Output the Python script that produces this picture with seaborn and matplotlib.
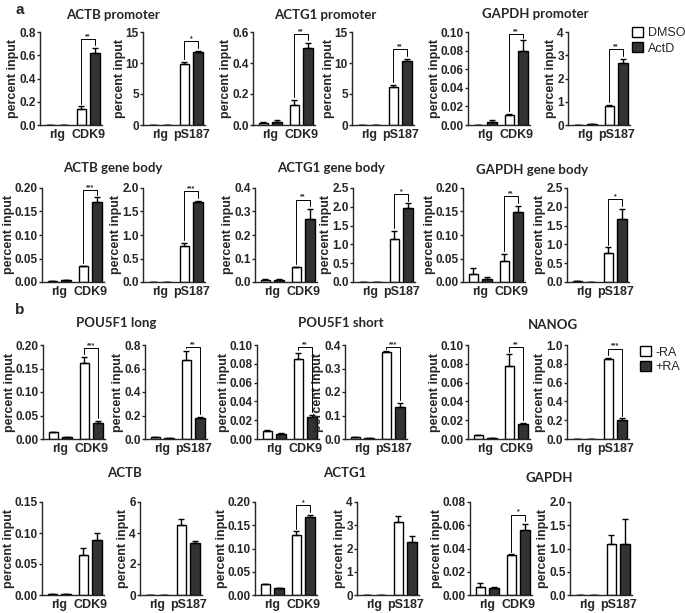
import numpy as np
import pandas as pd
import matplotlib
matplotlib.use("Agg")
import matplotlib.pyplot as plt
import seaborn as sns
from matplotlib.patches import Patch

# ---- data ----
groups_cdk9 = ["rIg", "CDK9"]
groups_ps = ["rIg", "pS187"]

# panel a, promoter row
a1_titles = ["ACTB promoter", "ACTG1 promoter", "GAPDH promoter"]
a1_white = [[0.0, 0.14], [0.0, 9.9], [0.012, 0.13], [0.05, 6.2], [0.0, 0.011], [0.01, 0.80]]
a1_white_err = [[0.0, 0.02], [0.0, 0.3], [0.005, 0.03], [0.0, 0.3], [0.0, 0.001], [0.0, 0.08]]
a1_dark = [[0.0, 0.62], [0.0, 11.7], [0.02, 0.50], [0.05, 10.3], [0.003, 0.080], [0.03, 2.68]]
a1_dark_err = [[0.0, 0.04], [0.0, 0.3], [0.015, 0.03], [0.0, 0.4], [0.002, 0.011], [0.0, 0.18]]
a1_stars = ["**", "*", "**", "**", "**", "**"]
a1_ymax = [0.8, 15, 0.6, 15, 0.10, 4]
a1_step = [0.2, 5, 0.2, 5, 0.02, 1]

# panel a, gene body row
a2_titles = ["ACTB gene body", "ACTG1 gene body", "GAPDH gene body"]
a2_white = [[0.003, 0.033], [0.005, 0.77], [0.01, 0.063], [0.01, 1.15], [0.017, 0.044], [0.02, 0.78]]
a2_white_err = [[0.0, 0.001], [0.0, 0.07], [0.002, 0.002], [0.0, 0.2], [0.013, 0.016], [0.0, 0.14]]
a2_dark = [[0.004, 0.170], [0.005, 1.70], [0.01, 0.27], [0.01, 1.97], [0.007, 0.149], [0.01, 1.68]]
a2_dark_err = [[0.001, 0.01], [0.0, 0.03], [0.002, 0.04], [0.0, 0.12], [0.003, 0.013], [0.0, 0.27]]
a2_stars = ["***", "***", "**", "*", "**", "*"]
a2_ymax = [0.20, 2.0, 0.4, 2.5, 0.20, 2.5]
a2_step = [0.05, 0.5, 0.1, 0.5, 0.05, 0.5]

# panel b, pluripotency genes
b1_titles = ["POU5F1 long", "POU5F1 short", "NANOG"]
b1_white = [[0.014, 0.162], [0.015, 0.67], [0.009, 0.085], [0.007, 0.37], [0.004, 0.078], [0.005, 0.85]]
b1_white_err = [[0.001, 0.012], [0.0, 0.08], [0.001, 0.007], [0.0, 0.003], [0.0005, 0.012], [0.0, 0.01]]
b1_dark = [[0.004, 0.034], [0.005, 0.18], [0.005, 0.023], [0.004, 0.135], [0.001, 0.016], [0.003, 0.20]]
b1_dark_err = [[0.001, 0.004], [0.0, 0.01], [0.001, 0.003], [0.0, 0.02], [0.0, 0.001], [0.0, 0.02]]
b1_stars = ["***", "**", "**", "***", "**", "***"]
b1_ymax = [0.20, 0.8, 0.10, 0.4, 0.10, 1.0]
b1_step = [0.05, 0.2, 0.02, 0.1, 0.02, 0.2]

# panel b, housekeeping genes
b2_titles = ["ACTB", "ACTG1", "GAPDH"]
b2_white = [[0.001, 0.065], [0.01, 4.5], [0.023, 0.13], [0.02, 3.15], [0.007, 0.034], [0.01, 1.10]]
b2_white_err = [[0.0, 0.011], [0.0, 0.4], [0.001, 0.007], [0.0, 0.25], [0.003, 0.001], [0.0, 0.18]]
b2_dark = [[0.001, 0.089], [0.02, 3.35], [0.015, 0.168], [0.01, 2.3], [0.006, 0.056], [0.005, 1.09]]
b2_dark_err = [[0.0, 0.011], [0.0, 0.15], [0.001, 0.005], [0.0, 0.22], [0.001, 0.005], [0.0, 0.55]]
b2_stars = ["", "", "*", "", "*", ""]
b2_ymax = [0.15, 6, 0.20, 4, 0.08, 2.0]
b2_step = [0.05, 2, 0.05, 1, 0.02, 0.5]

cond_a = ["DMSO", "ActD"]
cond_b = ["-RA", "+RA"]

# ---- style ----
sns.set_theme(style="ticks")
plt.rcParams['font.family'] = ['Liberation Sans', 'DejaVu Sans']
plt.rcParams['font.weight'] = 'bold'
plt.rcParams['axes.labelweight'] = 'bold'
TITLE_FONT = ['Lato', 'DejaVu Sans']
W, H = 685, 613
DARK = "#333333"

fig = plt.figure(figsize=(W / 100, H / 100), dpi=100)

# layout in pixels: (top, bottom, lefts)
rows = [
    (32, 125, [40, 143, 253, 352, 468, 568]),
    (188, 282, [42, 143, 255, 353, 463, 567]),
    (345, 439, [43, 145, 257, 345, 468, 567]),
    (502, 595, [42, 140, 255, 357, 470, 570]),
]
AX_W = 62

row_data = [
    (a1_white, a1_white_err, a1_dark, a1_dark_err, a1_stars, a1_ymax, a1_step, cond_a),
    (a2_white, a2_white_err, a2_dark, a2_dark_err, a2_stars, a2_ymax, a2_step, cond_a),
    (b1_white, b1_white_err, b1_dark, b1_dark_err, b1_stars, b1_ymax, b1_step, cond_b),
    (b2_white, b2_white_err, b2_dark, b2_dark_err, b2_stars, b2_ymax, b2_step, cond_b),
]


def px_axes(left, top, bottom):
    return fig.add_axes([left / W, 1 - bottom / H, AX_W / W, (bottom - top) / H])


for (top, bottom, lefts), (wm, we, dm, de, stars, ymaxs, steps, conds) in zip(rows, row_data):
    for j in range(6):
        ax = px_axes(lefts[j], top, bottom)
        groups = groups_cdk9 if j % 2 == 0 else groups_ps
        df = pd.DataFrame({
            "group": groups * 2,
            "cond": [conds[0]] * 2 + [conds[1]] * 2,
            "value": wm[j] + dm[j],
        })
        sns.barplot(data=df, x="group", y="value", hue="cond", order=groups,
                    hue_order=conds, palette={conds[0]: "white", conds[1]: DARK},
                    edgecolor="black", linewidth=1.0, width=0.9, gap=0.35,
                    errorbar=None, legend=False, ax=ax)
        errs = [we[j], de[j]]
        vals = [wm[j], dm[j]]
        tops = []
        bar_conts = list(ax.containers)
        for h, cont in enumerate(bar_conts):
            xs = [p.get_x() + p.get_width() / 2 for p in cont.patches]
            ax.errorbar(xs, vals[h], yerr=[[0, 0], errs[h]], fmt="none",
                        ecolor="black", elinewidth=1.0, capsize=2.5, capthick=1.0)
            tops.append((xs[1], vals[h][1] + errs[h][1]))
        ymax = ymaxs[j]
        if stars[j]:
            hi = max(t[1] for t in tops)
            yb = min(hi + 0.1 * ymax, 0.98 * ymax)
            (x1, t1), (x2, t2) = tops
            ax.plot([x1, x1, x2, x2], [t1 + 0.03 * ymax, yb, yb, t2 + 0.03 * ymax],
                    color="black", lw=0.7)
            ax.text((x1 + x2) / 2, yb - 0.01 * ymax, stars[j], ha="center", va="bottom",
                    fontsize=5)
        ax.set_xlim(-0.55, 1.45)
        ax.set_ylim(0, ymax)
        ticks = np.arange(0, ymax + steps[j] / 2, steps[j])
        dec = max(0, -int(np.floor(np.log10(steps[j]) + 1e-9)))
        ax.set_yticks(ticks)
        ax.set_yticklabels([f"{t:.{dec}f}" for t in ticks], fontsize=8.5)
        ax.set_xticks([0, 1])
        ax.set_xticklabels(groups, fontsize=9)
        ax.set_xlabel("")
        ax.set_ylabel("percent input", fontsize=9, labelpad=0)
        ax.tick_params(axis="x", length=0, pad=3)
        ax.tick_params(axis="y", length=2.5, width=1, pad=0.5)
        sns.despine(ax=ax)
        for s in ["left", "bottom"]:
            ax.spines[s].set_linewidth(1.0)

# gene titles
title_pos = [
    (a1_titles, [(113, 15), (325, 15), (535, 14)]),
    (a2_titles, [(113, 168), (331, 168), (532, 170)]),
    (b1_titles, [(116, 323), (341, 323), (553, 325)]),
    (b2_titles, [(124, 473), (345, 473), (549, 478)]),
]
for names, pos in title_pos:
    for name, (x, y) in zip(names, pos):
        fig.text(x / W, 1 - y / H, name, ha="center", va="center", fontsize=9.5,
                 fontweight="bold", family=TITLE_FONT)

fig.text(20 / W, 1 - 10 / H, "a", fontsize=11, fontweight="bold", ha="center", va="center")
fig.text(20 / W, 1 - 310 / H, "b", fontsize=11, fontweight="bold", ha="center", va="center")

for conds, (lx, ly) in [(cond_a, (632, 27)), (cond_b, (640, 346))]:
    handles = [Patch(facecolor="white", edgecolor="black", lw=1.0),
               Patch(facecolor=DARK, edgecolor="black", lw=1.0)]
    fig.legend(handles, conds, loc="upper left", bbox_to_anchor=(lx / W, 1 - ly / H),
               frameon=False, handlelength=0.9, handleheight=0.9, handletextpad=0.35,
               labelspacing=0.2, borderpad=0, borderaxespad=0,
               prop={"size": 9, "weight": "normal"})

fig.savefig("out.png", dpi=100)
